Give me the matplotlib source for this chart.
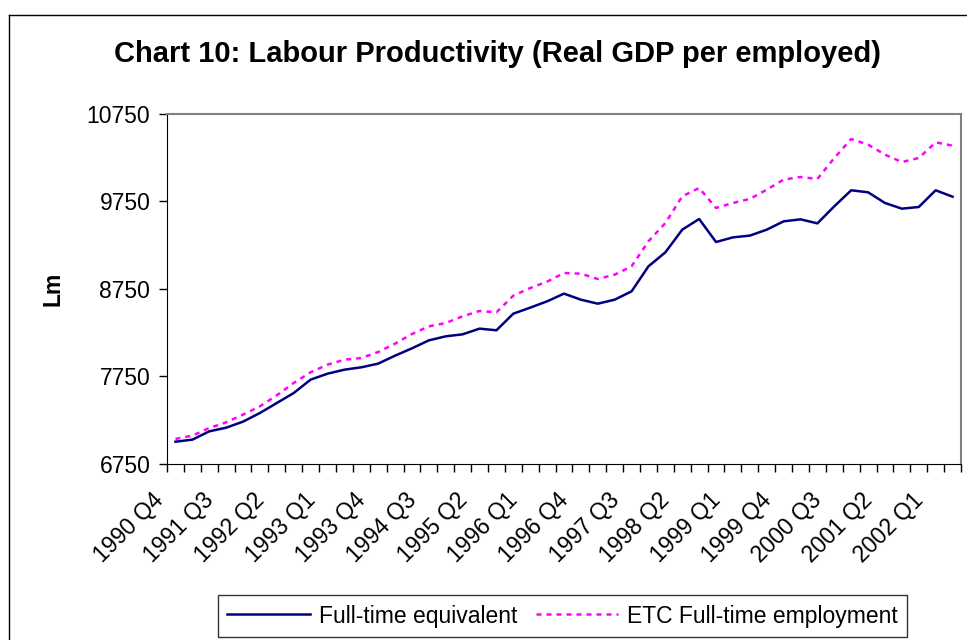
import matplotlib
matplotlib.use('Agg')
import matplotlib.pyplot as plt
import matplotlib.transforms as mtransforms
from matplotlib.lines import Line2D

plt.rcParams['font.family'] = ['Liberation Sans', 'DejaVu Sans']

# quarters 1990 Q4 .. 2002 Q2
quarters = ['1990 Q4'] + ['%d Q%d' % (y, q) for y in range(1991, 2002) for q in range(1, 5)] + ['2002 Q1', '2002 Q2']

# Full-time equivalent (Lm)
fte = [7005, 7028, 7123, 7165, 7234, 7333, 7447, 7561, 7714, 7782,
       7828, 7855, 7897, 7988, 8072, 8163, 8209, 8232, 8297, 8278,
       8468, 8537, 8609, 8697, 8628, 8582, 8628, 8723, 9009, 9169,
       9428, 9550, 9287, 9340, 9360, 9428, 9523, 9546, 9500, 9695,
       9878, 9855, 9733, 9668, 9687, 9878, 9805]

# ETC full-time employment (Lm)
etc = [7036, 7074, 7161, 7226, 7314, 7409, 7535, 7676, 7798, 7885,
       7942, 7961, 8030, 8125, 8236, 8323, 8361, 8438, 8499, 8483,
       8674, 8761, 8834, 8933, 8925, 8864, 8914, 9009, 9295, 9504,
       9809, 9904, 9676, 9733, 9779, 9885, 10000, 10030, 10007, 10247,
       10464, 10400, 10285, 10201, 10247, 10426, 10388]

yticks = [6750, 7750, 8750, 9750, 10750]

fig = plt.figure(figsize=(9.67, 6.4), dpi=100)
ax = fig.add_axes([0.1727, 0.275, 0.8211, 0.5469])

x = list(range(len(quarters)))
ax.plot(x, fte, color='#000080', lw=1.8, label='Full-time equivalent')
ax.plot(x, etc, color='#FF00FF', lw=1.8, linestyle=(0, (2, 2)), label='ETC Full-time employment')

ax.set_xlim(-0.5, len(quarters) - 0.5)
ax.set_ylim(6750, 10750)
ax.set_yticks(yticks)
ax.set_yticklabels([str(v) for v in yticks], fontsize=16.5)
ax.tick_params(axis='y', direction='out', length=6, width=1, pad=6)

ax.set_xticks(x[::3])
ax.set_xticklabels(quarters[::3], rotation=45, ha='right', rotation_mode='anchor', fontsize=16.5)
ax.tick_params(axis='x', which='major', length=0, pad=15)
ax.set_xticks([i - 0.5 for i in range(len(quarters) + 1)], minor=True)
ax.tick_params(axis='x', which='minor', direction='out', length=6, width=1)
shift = mtransforms.ScaledTranslation(-24 / 100, -4 / 100, fig.dpi_scale_trans)
for lbl in ax.get_xticklabels():
    lbl.set_transform(lbl.get_transform() + shift)

for s in ['left', 'bottom']:
    ax.spines[s].set_color('black')
for s in ['top', 'right']:
    ax.spines[s].set_color('#808080')
    ax.spines[s].set_linewidth(1.5)

ax.set_ylabel('Lm', fontsize=16.5, fontweight='bold', labelpad=16)

fig.text(0.514, 0.916, 'Chart 10: Labour Productivity (Real GDP per employed)',
         fontsize=21, fontweight='bold', ha='center', va='center')

leg = ax.legend(loc='center', bbox_to_anchor=(0.582, 1 - 616 / 640), bbox_transform=fig.transFigure,
                ncol=2, fontsize=16.5, frameon=True, fancybox=False, handlelength=3.6,
                columnspacing=0.8, borderpad=0.4, handletextpad=0.4)
leg.get_frame().set_edgecolor('black')
leg.get_frame().set_linewidth(1)

# outer chart frame
fig.add_artist(Line2D([9 / 967, 9 / 967], [0, 1 - 15 / 640], transform=fig.transFigure, color='black', lw=1))
fig.add_artist(Line2D([9 / 967, 1], [1 - 15 / 640, 1 - 15 / 640], transform=fig.transFigure, color='black', lw=1))

fig.savefig('out.png', dpi=100)
